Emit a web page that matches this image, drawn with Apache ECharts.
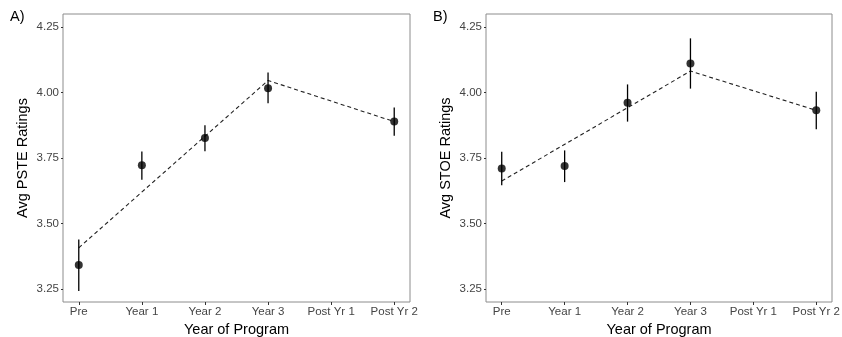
<!DOCTYPE html>
<html>
<head>
<meta charset="utf-8">
<script src="https://cdn.jsdelivr.net/npm/echarts@6/dist/echarts.min.js"></script>
<style>
html,body{margin:0;padding:0;background:#fff;}
#chart{width:842px;height:337px;}
</style>
</head>
<body>
<div id="chart"></div>
<script>
// ---- data ----
const categories = ['Pre', 'Year 1', 'Year 2', 'Year 3', 'Post Yr 1', 'Post Yr 2'];
const yTicks = [3.25, 3.5, 3.75, 4.0, 4.25];

const pointCats = ['Pre', 'Year 1', 'Year 2', 'Year 3', 'Post Yr 2'];
const trendCats = ['Pre', 'Year 3', 'Post Yr 2'];

const psteMean = [3.341, 3.722, 3.826, 4.016, 3.889];
const psteLow  = [3.242, 3.667, 3.776, 3.959, 3.835];
const psteHigh = [3.439, 3.775, 3.875, 4.077, 3.943];
const psteTrend = [3.407, 4.046, 3.889];

const stoeMean = [3.710, 3.719, 3.961, 4.111, 3.932];
const stoeLow  = [3.646, 3.658, 3.889, 4.015, 3.860];
const stoeHigh = [3.774, 3.779, 4.031, 4.207, 4.003];
const stoeTrend = [3.662, 4.082, 3.932];

const panelLabels = ['A)', 'B)'];
const yTitles = ['Avg PSTE Ratings', 'Avg STOE Ratings'];
const xTitle = 'Year of Program';

// ---- build ----
const idx = c => categories.indexOf(c);
const FONT = '"Liberation Sans", Arial, Helvetica, sans-serif';

function xAxisCfg(gi) {
  return {
    type: 'value', gridIndex: gi, min: -0.25, max: 5.25,
    name: xTitle, nameLocation: 'middle', nameGap: 16,
    nameTextStyle: {fontFamily: FONT, fontSize: 14.5, color: '#000'},
    axisLine: {show: false, onZero: false},
    splitLine: {show: false},
    axisTick: {show: true, length: 3, lineStyle: {color: '#333'}, customValues: categories.map((c, i) => i)},
    axisLabel: {fontFamily: FONT, fontSize: 11.5, color: '#444', margin: 4,
      customValues: categories.map((c, i) => i),
      formatter: v => categories[Math.round(v)] || ''}
  };
}
function yAxisCfg(gi) {
  return {
    type: 'value', gridIndex: gi, min: 3.2, max: 4.3,
    name: yTitles[gi], nameLocation: 'middle', nameGap: 33,
    nameTextStyle: {fontFamily: FONT, fontSize: 14.5, color: '#000'},
    axisLine: {show: false, onZero: false},
    splitLine: {show: false},
    axisTick: {show: true, length: 2, lineStyle: {color: '#333'}, customValues: yTicks},
    axisLabel: {fontFamily: FONT, fontSize: 11.5, color: '#444', margin: 4,
      customValues: yTicks, formatter: v => v.toFixed(2)}
  };
}

function panelSeries(gi, mean, low, high, trend) {
  return [
    {
      type: 'line', xAxisIndex: gi, yAxisIndex: gi,
      data: trendCats.map((c, i) => [idx(c), trend[i]]),
      symbol: 'none', silent: true,
      lineStyle: {color: '#222', width: 1.1, type: [4, 3]}, z: 2
    },
    {
      type: 'custom', xAxisIndex: gi, yAxisIndex: gi,
      data: pointCats.map((c, i) => [idx(c), low[i], high[i]]),
      renderItem: (params, api) => {
        const p1 = api.coord([api.value(0), api.value(1)]);
        const p2 = api.coord([api.value(0), api.value(2)]);
        return {type: 'line', shape: {x1: p1[0], y1: p1[1], x2: p2[0], y2: p2[1]},
          style: {stroke: '#000', lineWidth: 1.3}};
      }, z: 3
    },
    {
      type: 'scatter', xAxisIndex: gi, yAxisIndex: gi,
      data: pointCats.map((c, i) => [idx(c), mean[i]]),
      symbol: 'circle', symbolSize: 8,
      itemStyle: {color: '#000'}, z: 4
    }
  ];
}

const chart = echarts.init(document.getElementById('chart'), null, {renderer: 'canvas'});
chart.setOption({
  animation: false,
  backgroundColor: '#fff',
  grid: [
    {left: 63, right: 432, top: 14, bottom: 35, show: true, borderColor: '#8c8c8c', borderWidth: 1,
     backgroundColor: 'transparent', containLabel: false, outerBoundsMode: 'none'},
    {left: 486, right: 10, top: 14, bottom: 35, show: true, borderColor: '#8c8c8c', borderWidth: 1,
     backgroundColor: 'transparent', containLabel: false, outerBoundsMode: 'none'}
  ],
  xAxis: [xAxisCfg(0), xAxisCfg(1)],
  yAxis: [yAxisCfg(0), yAxisCfg(1)],
  graphic: [
    {type: 'text', left: 10, top: 9, style: {text: panelLabels[0], font: '14.5px ' + FONT, fill: '#000'}},
    {type: 'text', left: 433, top: 9, style: {text: panelLabels[1], font: '14.5px ' + FONT, fill: '#000'}}
  ],
  series: [
    ...panelSeries(0, psteMean, psteLow, psteHigh, psteTrend),
    ...panelSeries(1, stoeMean, stoeLow, stoeHigh, stoeTrend)
  ]
});
</script>
</body>
</html>
